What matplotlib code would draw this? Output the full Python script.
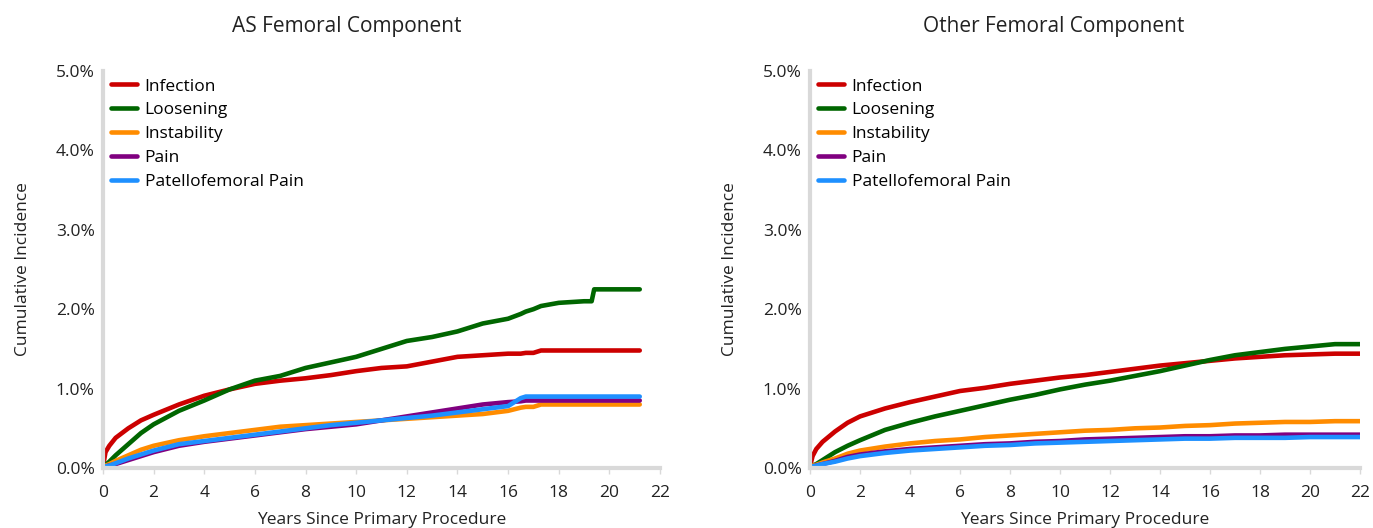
import matplotlib.pyplot as plt
import numpy as np

plt.rcParams['font.family'] = ['Open Sans', 'DejaVu Sans']

series_names = ["Infection", "Loosening", "Instability", "Pain", "Patellofemoral Pain"]
series_colors = ["#cc0000", "#006600", "#ff8c00", "#800080", "#1e90ff"]

# AS Femoral Component (years, cumulative incidence %)
as_years = [0, 0.1, 0.25, 0.5, 1, 1.5, 2, 3, 4, 5, 6, 7, 8, 9, 10, 11, 12, 13, 14, 15, 16,
            16.5, 16.7, 17, 17.3, 18, 19, 19.3, 19.4, 20, 21.2]
as_infection = [0.02, 0.2, 0.28, 0.38, 0.5, 0.6, 0.67, 0.8, 0.91, 0.99, 1.06, 1.1, 1.13, 1.17, 1.22,
                1.26, 1.28, 1.34, 1.4, 1.42, 1.44, 1.44, 1.45, 1.45, 1.48, 1.48, 1.48, 1.48, 1.48, 1.48, 1.48]
as_loosening = [0.02, 0.04, 0.08, 0.16, 0.3, 0.44, 0.55, 0.72, 0.85, 0.99, 1.1, 1.16, 1.26, 1.33, 1.4,
                1.5, 1.6, 1.65, 1.72, 1.82, 1.88, 1.94, 1.97, 2.0, 2.04, 2.08, 2.1, 2.1, 2.25, 2.25, 2.25]
as_instability = [0.02, 0.03, 0.05, 0.09, 0.16, 0.23, 0.28, 0.35, 0.4, 0.44, 0.48, 0.52, 0.54, 0.56, 0.58,
                  0.6, 0.62, 0.64, 0.66, 0.68, 0.72, 0.76, 0.77, 0.77, 0.8, 0.8, 0.8, 0.8, 0.8, 0.8, 0.8]
as_pain = [0.02, 0.02, 0.03, 0.05, 0.1, 0.15, 0.2, 0.28, 0.33, 0.37, 0.41, 0.45, 0.49, 0.52, 0.55,
           0.6, 0.65, 0.7, 0.75, 0.8, 0.83, 0.84, 0.85, 0.85, 0.85, 0.85, 0.85, 0.85, 0.85, 0.85, 0.85]
as_patello = [0.02, 0.02, 0.03, 0.06, 0.12, 0.17, 0.22, 0.3, 0.34, 0.38, 0.42, 0.46, 0.5, 0.54, 0.57,
              0.6, 0.63, 0.66, 0.7, 0.74, 0.78, 0.88, 0.9, 0.9, 0.9, 0.9, 0.9, 0.9, 0.9, 0.9, 0.9]

# Other Femoral Component
ot_years = [0, 0.1, 0.25, 0.5, 1, 1.5, 2, 3, 4, 5, 6, 7, 8, 9, 10, 11, 12, 13, 14, 15, 16,
            17, 18, 19, 20, 21, 22]
ot_infection = [0.02, 0.15, 0.24, 0.33, 0.46, 0.57, 0.65, 0.75, 0.83, 0.9, 0.97, 1.01, 1.06, 1.1, 1.14,
                1.17, 1.21, 1.25, 1.29, 1.32, 1.35, 1.38, 1.4, 1.42, 1.43, 1.44, 1.44]
ot_loosening = [0.02, 0.03, 0.05, 0.1, 0.2, 0.28, 0.35, 0.48, 0.57, 0.65, 0.72, 0.79, 0.86, 0.92, 0.99,
                1.05, 1.1, 1.16, 1.22, 1.29, 1.36, 1.42, 1.46, 1.5, 1.53, 1.56, 1.56]
ot_instability = [0.02, 0.03, 0.04, 0.07, 0.12, 0.18, 0.22, 0.27, 0.31, 0.34, 0.36, 0.39, 0.41, 0.43, 0.45,
                  0.47, 0.48, 0.5, 0.51, 0.53, 0.54, 0.56, 0.57, 0.58, 0.58, 0.59, 0.59]
ot_pain = [0.02, 0.02, 0.03, 0.05, 0.09, 0.14, 0.17, 0.21, 0.24, 0.26, 0.28, 0.3, 0.31, 0.33, 0.34,
           0.36, 0.37, 0.38, 0.39, 0.4, 0.4, 0.41, 0.41, 0.42, 0.42, 0.42, 0.42]
ot_patello = [0.02, 0.02, 0.03, 0.05, 0.08, 0.12, 0.15, 0.19, 0.22, 0.24, 0.26, 0.28, 0.29, 0.31, 0.32,
              0.33, 0.34, 0.35, 0.36, 0.37, 0.37, 0.38, 0.38, 0.38, 0.39, 0.39, 0.39]

panels = [
    ("AS Femoral Component", as_years, [as_infection, as_loosening, as_instability, as_pain, as_patello]),
    ("Other Femoral Component", ot_years, [ot_infection, ot_loosening, ot_instability, ot_pain, ot_patello]),
]

fig = plt.figure(figsize=(13.73, 5.28), dpi=100)
axes_pos = [[0.075, 0.1136, 0.4057, 0.752], [0.59, 0.1136, 0.4005, 0.752]]
title_x = [347 / 1373, 1054 / 1373]
txt = "#222222"

for k in range(2):
    title, years, values = panels[k]
    ax = fig.add_axes(axes_pos[k])
    for i in range(len(series_names)):
        ax.plot(years, np.array(values[i]) / 100, color=series_colors[i], lw=3.3,
                label=series_names[i], solid_capstyle='round')
    ax.set_xlim(0, 22)
    ax.set_ylim(0, 0.05)
    ax.set_xticks(range(0, 23, 2))
    ax.set_yticks([0, 0.01, 0.02, 0.03, 0.04, 0.05])
    ax.set_yticklabels(["0.0%", "1.0%", "2.0%", "3.0%", "4.0%", "5.0%"])
    for s in ["top", "right"]:
        ax.spines[s].set_visible(False)
    for s in ["left", "bottom"]:
        ax.spines[s].set_color("#d9d9d9")
        ax.spines[s].set_linewidth(3)
    ax.tick_params(axis='x', colors="#d9d9d9", labelcolor=txt, length=4, width=1,
                   labelsize=12.5, pad=8)
    ax.tick_params(axis='y', length=0, labelsize=12.5, labelcolor=txt, pad=6)
    ax.set_xlabel("Years Since Primary Procedure", fontsize=12.5, color=txt, labelpad=8)
    ax.set_ylabel("Cumulative Incidence", fontsize=12.5, color=txt, labelpad=18)
    fig.text(title_x[k], 0.95, title, ha='center', va='center', fontsize=15, color=txt)
    ax.legend(loc='upper left', bbox_to_anchor=(-0.008, 1.012), frameon=False, fontsize=12.5,
              handlelength=1.5, handletextpad=0.45, labelspacing=0.44, borderaxespad=0.3)

fig.savefig("out.png", dpi=100)
